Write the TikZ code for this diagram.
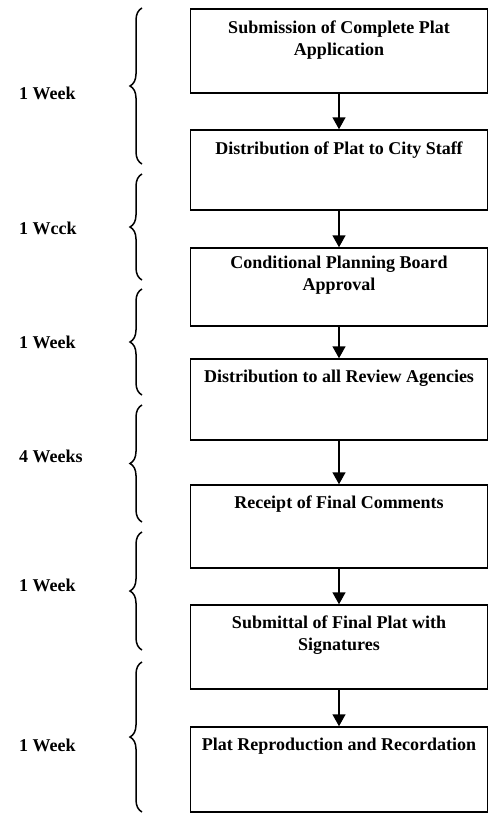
\documentclass[tikz,border=0pt]{standalone}
\usepackage{fontspec}
\setmainfont{Liberation Serif}
\usetikzlibrary{positioning, arrows.meta, decorations.pathreplacing}

\begin{document}
\begin{tikzpicture}[x=1pt, y=-1pt,
	stepbox/.style={rectangle, draw, line width=1.5pt, minimum width=297pt},
	steptext/.style={font=\bfseries\fontsize{18}{22}\selectfont, align=center, inner sep=0pt, anchor=north},
	weeklabel/.style={font=\bfseries\fontsize{18}{22}\selectfont, anchor=west, inner sep=0pt},
	flow/.style={line width=1.5pt, -{Triangle[width=13pt, length=12pt]}},
	weekbrace/.style={line width=1.5pt, decorate, decoration={brace, amplitude=12pt}}]
	\useasboundingbox (0,0) rectangle (489,814);
	\node[stepbox, minimum height=84pt] (submission) at (339,51) {};
	\node[stepbox, minimum height=80pt] (staff) at (339,170) {};
	\node[stepbox, minimum height=78pt] (board) at (339,287) {};
	\node[stepbox, minimum height=81pt] (agencies) at (339,399.5) {};
	\node[stepbox, minimum height=83pt] (comments) at (339,526.5) {};
	\node[stepbox, minimum height=84pt] (signatures) at (339,647) {};
	\node[stepbox, minimum height=85pt] (recordation) at (339,769.5) {};
	\node[steptext, below=12pt of submission.north] (submission-t) {Submission of Complete Plat\\Application};
	\node[steptext, below=12pt of staff.north] (staff-t) {Distribution of Plat to City Staff};
	\node[steptext, below=9pt of board.north] (board-t) {Conditional Planning Board\\Approval};
	\node[steptext, below=12pt of agencies.north] (agencies-t) {Distribution to all Review Agencies};
	\node[steptext, below=11pt of comments.north] (comments-t) {Receipt of Final Comments};
	\node[steptext, below=11pt of signatures.north] (signatures-t) {Submittal of Final Plat with\\Signatures};
	\node[steptext, below=12pt of recordation.north] (recordation-t) {Plat Reproduction and Recordation};
	\draw[flow] (submission) -- (staff);
	\draw[flow] (staff) -- (board);
	\draw[flow] (board) -- (agencies);
	\draw[flow] (agencies) -- (comments);
	\draw[flow] (comments) -- (signatures);
	\draw[flow] (signatures) -- (recordation);
	\foreach \ya/\yb/\ym/\txt [count=\i] in {8/164/93/1 Week, 174/280/228/1 Wcck, 289/395/342/1 Week,
		405/522/456/4 Weeks, 532/650/585/1 Week, 662/812/745/1 Week} {
		\draw[weekbrace] (142,\yb) -- (142,\ya);
		\node[weeklabel] (week\i) at (19,\ym) {\txt};
	}
\end{tikzpicture}
\end{document}
